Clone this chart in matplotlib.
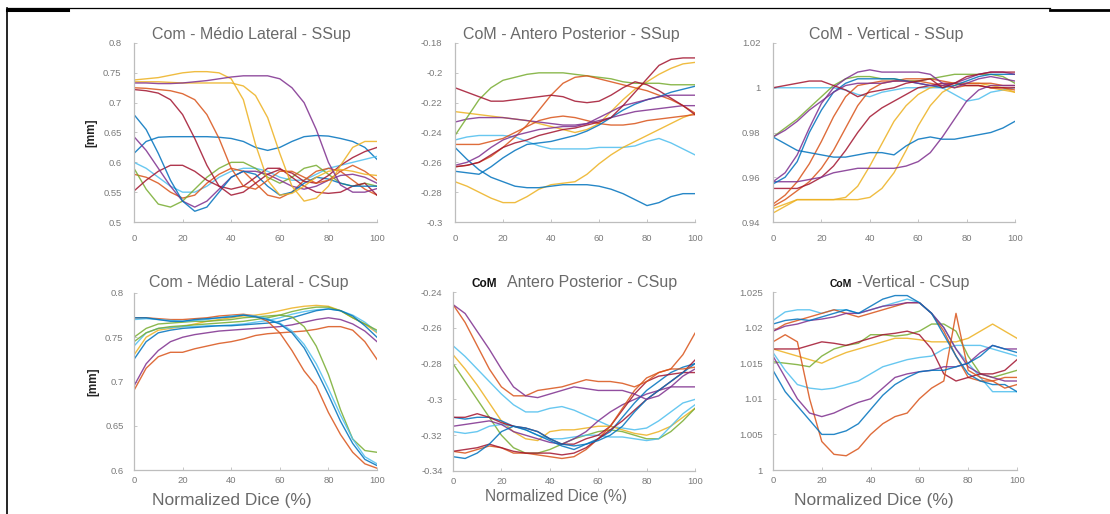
import numpy as np
import matplotlib
matplotlib.use("Agg")
import matplotlib.pyplot as plt
from matplotlib.lines import Line2D

plt.rcParams['font.family'] = ['Liberation Sans', 'DejaVu Sans']

# ---------------- data ----------------
x_pct = np.arange(0, 101, 5)

C_BLUE, C_ORANGE, C_YELLOW = '#0072BD', '#D95319', '#EDB120'
C_PURPLE, C_GREEN, C_CYAN, C_RED = '#7E2F8E', '#77AC30', '#4DBEEE', '#A2142F'

# Com - Medio Lateral - SSup
ml_s_purple1 = [0.733,0.733,0.732,0.732,0.733,0.735,0.737,0.740,0.743,0.745,0.745,0.745,0.740,0.725,0.700,0.655,0.600,0.562,0.550,0.550,0.556]
ml_s_yellow1 = [0.738,0.740,0.742,0.746,0.750,0.752,0.752,0.750,0.740,0.705,0.630,0.570,0.545,0.548,0.560,0.575,0.585,0.588,0.585,0.580,0.578]
ml_s_yellow2 = [0.735,0.735,0.735,0.734,0.733,0.733,0.733,0.733,0.733,0.728,0.712,0.675,0.615,0.560,0.535,0.540,0.560,0.595,0.625,0.635,0.635]
ml_s_orange1 = [0.725,0.724,0.722,0.720,0.715,0.705,0.680,0.640,0.590,0.560,0.555,0.570,0.585,0.585,0.575,0.565,0.570,0.585,0.595,0.585,0.570]
ml_s_red1    = [0.722,0.720,0.716,0.705,0.680,0.640,0.595,0.560,0.545,0.550,0.565,0.580,0.588,0.582,0.568,0.565,0.578,0.595,0.608,0.618,0.625]
ml_s_blue1   = [0.680,0.655,0.615,0.570,0.535,0.518,0.525,0.550,0.575,0.585,0.580,0.560,0.545,0.550,0.565,0.575,0.572,0.565,0.560,0.560,0.560]
ml_s_blue2   = [0.615,0.635,0.642,0.643,0.643,0.643,0.643,0.642,0.640,0.635,0.625,0.620,0.625,0.635,0.643,0.645,0.644,0.640,0.635,0.625,0.605]
ml_s_purple2 = [0.643,0.620,0.590,0.560,0.535,0.525,0.535,0.555,0.575,0.585,0.585,0.580,0.570,0.560,0.555,0.560,0.570,0.578,0.580,0.575,0.565]
ml_s_green1  = [0.590,0.555,0.530,0.525,0.535,0.555,0.575,0.590,0.600,0.600,0.590,0.575,0.565,0.575,0.590,0.595,0.580,0.565,0.560,0.565,0.560]
ml_s_red2    = [0.552,0.570,0.585,0.595,0.595,0.585,0.570,0.560,0.555,0.560,0.575,0.590,0.590,0.575,0.560,0.550,0.548,0.550,0.560,0.565,0.545]
ml_s_cyan1   = [0.600,0.590,0.575,0.560,0.550,0.550,0.560,0.575,0.585,0.590,0.590,0.585,0.575,0.570,0.570,0.580,0.590,0.595,0.600,0.605,0.610]
ml_s_orange2 = [0.580,0.575,0.565,0.550,0.540,0.545,0.565,0.580,0.590,0.585,0.565,0.545,0.540,0.550,0.570,0.585,0.590,0.585,0.570,0.555,0.545]

# CoM - Antero Posterior - SSup
ap_s_green   = [-0.242,-0.230,-0.218,-0.210,-0.205,-0.203,-0.201,-0.200,-0.200,-0.200,-0.201,-0.202,-0.203,-0.204,-0.206,-0.207,-0.207,-0.207,-0.208,-0.208,-0.208]
ap_s_red     = [-0.263,-0.262,-0.260,-0.256,-0.250,-0.243,-0.235,-0.225,-0.215,-0.207,-0.203,-0.202,-0.204,-0.206,-0.208,-0.210,-0.212,-0.215,-0.218,-0.222,-0.227]
ap_s_dkred   = [-0.210,-0.213,-0.216,-0.219,-0.219,-0.218,-0.217,-0.216,-0.215,-0.216,-0.219,-0.220,-0.219,-0.215,-0.210,-0.206,-0.208,-0.212,-0.217,-0.222,-0.228]
ap_s_purple  = [-0.263,-0.262,-0.260,-0.255,-0.250,-0.247,-0.245,-0.242,-0.240,-0.238,-0.237,-0.235,-0.233,-0.230,-0.222,-0.213,-0.204,-0.195,-0.191,-0.190,-0.190]
ap_s_orange  = [-0.248,-0.248,-0.248,-0.246,-0.244,-0.240,-0.236,-0.232,-0.230,-0.229,-0.230,-0.232,-0.234,-0.235,-0.235,-0.234,-0.232,-0.231,-0.230,-0.229,-0.228]
ap_s_yellow1 = [-0.226,-0.227,-0.228,-0.229,-0.230,-0.231,-0.232,-0.234,-0.236,-0.238,-0.240,-0.238,-0.234,-0.226,-0.218,-0.211,-0.206,-0.201,-0.197,-0.194,-0.193]
ap_s_yellow2 = [-0.273,-0.276,-0.280,-0.284,-0.287,-0.287,-0.283,-0.278,-0.275,-0.274,-0.273,-0.268,-0.261,-0.255,-0.250,-0.246,-0.242,-0.238,-0.234,-0.230,-0.227]
ap_s_cyan    = [-0.245,-0.243,-0.242,-0.242,-0.242,-0.243,-0.246,-0.249,-0.251,-0.251,-0.251,-0.251,-0.250,-0.250,-0.250,-0.249,-0.246,-0.244,-0.247,-0.251,-0.255]
ap_s_blue1   = [-0.250,-0.258,-0.265,-0.270,-0.273,-0.276,-0.277,-0.277,-0.276,-0.275,-0.275,-0.275,-0.276,-0.278,-0.281,-0.285,-0.289,-0.287,-0.283,-0.281,-0.281]
ap_s_blue2   = [-0.266,-0.267,-0.268,-0.263,-0.257,-0.252,-0.248,-0.247,-0.246,-0.244,-0.242,-0.239,-0.235,-0.230,-0.225,-0.221,-0.218,-0.216,-0.213,-0.211,-0.209]
ap_s_purple2 = [-0.233,-0.231,-0.230,-0.230,-0.230,-0.231,-0.232,-0.233,-0.234,-0.235,-0.235,-0.234,-0.232,-0.230,-0.228,-0.226,-0.225,-0.224,-0.223,-0.222,-0.222]
ap_s_dkpurp  = [-0.262,-0.260,-0.256,-0.250,-0.245,-0.242,-0.240,-0.238,-0.237,-0.236,-0.236,-0.234,-0.230,-0.226,-0.222,-0.220,-0.218,-0.216,-0.215,-0.215,-0.215]

# CoM - Vertical - SSup
v_s_dkpurp   = [1.000,1.001,1.002,1.003,1.003,1.001,0.999,0.996,0.998,0.999,1.000,1.002,1.003,1.004,1.000,1.002,1.005,1.006,1.007,1.007,1.007]
v_s_cyan     = [1.000,1.000,1.000,1.000,1.000,1.000,0.999,0.997,0.996,0.998,0.999,1.000,1.000,1.000,1.000,0.997,0.994,0.995,0.998,0.999,1.000]
v_s_purple   = [0.958,0.962,0.970,0.982,0.993,1.000,1.004,1.007,1.008,1.007,1.007,1.007,1.007,1.006,1.002,1.000,1.002,1.004,1.005,1.004,1.003]
v_s_blue     = [0.957,0.960,0.967,0.980,0.990,0.998,1.002,1.004,1.004,1.004,1.004,1.003,1.002,1.001,1.000,1.001,1.003,1.005,1.006,1.006,1.006]
v_s_green    = [0.978,0.982,0.986,0.991,0.996,1.001,1.004,1.005,1.005,1.004,1.004,1.003,1.003,1.004,1.005,1.006,1.006,1.006,1.006,1.005,1.002]
v_s_dkpurp2  = [0.978,0.981,0.985,0.990,0.994,0.998,1.001,1.002,1.002,1.002,1.003,1.003,1.002,1.001,1.001,1.002,1.004,1.006,1.007,1.007,1.006]
v_s_bluelow  = [0.978,0.975,0.972,0.971,0.970,0.969,0.969,0.970,0.971,0.971,0.970,0.974,0.977,0.978,0.977,0.977,0.978,0.979,0.980,0.982,0.985]
v_s_red      = [0.948,0.952,0.958,0.966,0.976,0.987,0.996,1.001,1.002,1.003,1.003,1.004,1.004,1.004,1.003,1.002,1.002,1.002,1.002,1.001,1.001]
v_s_orange   = [0.947,0.950,0.954,0.958,0.964,0.972,0.982,0.992,0.999,1.002,1.003,1.003,1.003,1.002,1.001,1.000,1.001,1.001,1.000,1.000,0.999]
v_s_orange2  = [0.955,0.955,0.955,0.957,0.960,0.965,0.972,0.980,0.987,0.991,0.994,0.997,1.000,1.001,1.002,1.002,1.001,1.001,1.000,1.000,1.000]
v_s_purplelow= [0.958,0.958,0.958,0.959,0.960,0.962,0.963,0.964,0.964,0.964,0.964,0.965,0.967,0.971,0.978,0.986,0.994,0.999,1.001,1.001,1.001]
v_s_yellow1  = [0.946,0.948,0.950,0.950,0.950,0.950,0.950,0.950,0.951,0.955,0.962,0.972,0.983,0.992,0.998,1.001,1.002,1.002,1.001,1.000,0.998]
v_s_yellow2  = [0.944,0.947,0.950,0.950,0.950,0.950,0.951,0.956,0.965,0.975,0.985,0.992,0.997,1.000,1.001,1.002,1.001,1.001,1.000,0.999,0.998]

# Com - Medio Lateral - CSup
ml_c_blue1   = [0.772,0.772,0.770,0.768,0.768,0.770,0.771,0.772,0.773,0.775,0.773,0.770,0.765,0.755,0.738,0.713,0.685,0.655,0.630,0.612,0.605]
ml_c_blue2   = [0.770,0.771,0.770,0.769,0.768,0.769,0.770,0.772,0.774,0.775,0.774,0.771,0.766,0.757,0.742,0.720,0.692,0.662,0.635,0.615,0.607]
ml_c_red1    = [0.772,0.772,0.771,0.770,0.770,0.771,0.772,0.774,0.775,0.776,0.774,0.768,0.755,0.735,0.712,0.695,0.665,0.640,0.620,0.607,0.602]
ml_c_green1  = [0.750,0.760,0.765,0.766,0.767,0.768,0.768,0.769,0.770,0.772,0.773,0.774,0.775,0.773,0.762,0.740,0.708,0.668,0.635,0.622,0.620]
ml_c_orange  = [0.730,0.750,0.758,0.760,0.762,0.765,0.768,0.770,0.772,0.774,0.775,0.777,0.780,0.783,0.785,0.786,0.785,0.780,0.772,0.765,0.755]
ml_c_cyan    = [0.740,0.755,0.760,0.761,0.762,0.762,0.763,0.763,0.764,0.765,0.767,0.769,0.772,0.776,0.779,0.781,0.782,0.780,0.775,0.767,0.756]
ml_c_green2  = [0.745,0.755,0.760,0.762,0.763,0.764,0.765,0.766,0.767,0.768,0.770,0.772,0.775,0.779,0.782,0.784,0.784,0.780,0.772,0.765,0.758]
ml_c_blue3   = [0.725,0.745,0.755,0.758,0.760,0.761,0.762,0.763,0.763,0.764,0.765,0.766,0.768,0.772,0.776,0.780,0.782,0.780,0.774,0.763,0.750]
ml_c_purple  = [0.695,0.720,0.735,0.745,0.750,0.753,0.755,0.757,0.758,0.759,0.760,0.761,0.762,0.764,0.767,0.770,0.772,0.770,0.765,0.757,0.745]
ml_c_red2    = [0.690,0.715,0.728,0.733,0.733,0.737,0.740,0.743,0.745,0.748,0.752,0.754,0.755,0.756,0.757,0.759,0.762,0.762,0.758,0.745,0.725]

# CoM - Antero Posterior - CSup
ap_c_purple  = [-0.247,-0.252,-0.262,-0.272,-0.283,-0.293,-0.298,-0.299,-0.297,-0.295,-0.293,-0.294,-0.295,-0.295,-0.295,-0.297,-0.300,-0.298,-0.293,-0.287,-0.283]
ap_c_red     = [-0.247,-0.257,-0.270,-0.283,-0.293,-0.298,-0.298,-0.295,-0.294,-0.293,-0.291,-0.289,-0.290,-0.290,-0.291,-0.293,-0.290,-0.285,-0.283,-0.283,-0.282]
ap_c_cyan1   = [-0.270,-0.276,-0.283,-0.290,-0.297,-0.303,-0.307,-0.307,-0.305,-0.304,-0.306,-0.309,-0.312,-0.315,-0.316,-0.317,-0.316,-0.312,-0.307,-0.302,-0.300]
ap_c_yellow  = [-0.275,-0.283,-0.292,-0.302,-0.312,-0.318,-0.322,-0.323,-0.318,-0.317,-0.317,-0.316,-0.315,-0.315,-0.317,-0.319,-0.320,-0.318,-0.315,-0.310,-0.305]
ap_c_green   = [-0.280,-0.290,-0.300,-0.310,-0.320,-0.327,-0.330,-0.330,-0.328,-0.325,-0.322,-0.320,-0.318,-0.317,-0.318,-0.320,-0.322,-0.322,-0.318,-0.312,-0.305]
ap_c_blue1   = [-0.310,-0.311,-0.310,-0.310,-0.312,-0.315,-0.317,-0.320,-0.323,-0.326,-0.328,-0.325,-0.322,-0.318,-0.310,-0.302,-0.295,-0.290,-0.285,-0.282,-0.280]
ap_c_dkred   = [-0.310,-0.310,-0.308,-0.310,-0.313,-0.315,-0.316,-0.318,-0.322,-0.325,-0.325,-0.322,-0.320,-0.315,-0.306,-0.297,-0.290,-0.287,-0.286,-0.285,-0.285]
ap_c_orange  = [-0.329,-0.330,-0.328,-0.326,-0.327,-0.330,-0.330,-0.331,-0.332,-0.333,-0.332,-0.328,-0.322,-0.315,-0.305,-0.295,-0.288,-0.285,-0.283,-0.275,-0.263]
ap_c_purple2 = [-0.329,-0.328,-0.327,-0.325,-0.327,-0.329,-0.330,-0.330,-0.330,-0.331,-0.330,-0.327,-0.322,-0.317,-0.312,-0.306,-0.300,-0.295,-0.290,-0.285,-0.278]
ap_c_blue2   = [-0.332,-0.333,-0.330,-0.325,-0.318,-0.315,-0.316,-0.318,-0.322,-0.325,-0.326,-0.325,-0.323,-0.320,-0.315,-0.307,-0.300,-0.295,-0.290,-0.285,-0.280]
ap_c_cyan2   = [-0.318,-0.319,-0.318,-0.315,-0.314,-0.315,-0.317,-0.320,-0.322,-0.322,-0.321,-0.320,-0.320,-0.321,-0.321,-0.322,-0.323,-0.322,-0.315,-0.308,-0.303]
ap_c_dkpurp  = [-0.315,-0.314,-0.313,-0.312,-0.314,-0.318,-0.320,-0.322,-0.324,-0.325,-0.322,-0.318,-0.312,-0.307,-0.303,-0.300,-0.297,-0.295,-0.293,-0.293,-0.293]

# CoM - Vertical - CSup
v_c_cyan1    = [1.0210,1.0222,1.0225,1.0225,1.0220,1.0225,1.0225,1.0220,1.0225,1.0230,1.0235,1.0240,1.0235,1.0220,1.0200,1.0170,1.0150,1.0130,1.0110,1.0110,1.0110]
v_c_blue1    = [1.0205,1.0210,1.0212,1.0210,1.0215,1.0220,1.0225,1.0220,1.0230,1.0240,1.0245,1.0245,1.0235,1.0220,1.0190,1.0160,1.0135,1.0125,1.0120,1.0120,1.0110]
v_c_orange1  = [1.0195,1.0205,1.0210,1.0215,1.0220,1.0225,1.0220,1.0215,1.0220,1.0225,1.0230,1.0235,1.0235,1.0220,1.0195,1.0160,1.0130,1.0125,1.0125,1.0130,1.0130]
v_c_purple1  = [1.0195,1.0202,1.0205,1.0210,1.0212,1.0215,1.0220,1.0220,1.0225,1.0230,1.0232,1.0235,1.0235,1.0220,1.0200,1.0170,1.0145,1.0135,1.0130,1.0125,1.0125]
v_c_yellow   = [1.0170,1.0165,1.0160,1.0155,1.0150,1.0158,1.0165,1.0170,1.0175,1.0180,1.0185,1.0185,1.0183,1.0180,1.0180,1.0180,1.0185,1.0195,1.0205,1.0195,1.0185]
v_c_green    = [1.0152,1.0150,1.0148,1.0145,1.0160,1.0170,1.0175,1.0178,1.0190,1.0190,1.0188,1.0190,1.0195,1.0205,1.0205,1.0195,1.0160,1.0135,1.0130,1.0135,1.0140]
v_c_dkred    = [1.0170,1.0170,1.0170,1.0175,1.0180,1.0178,1.0175,1.0180,1.0185,1.0190,1.0192,1.0195,1.0190,1.0170,1.0135,1.0125,1.0130,1.0135,1.0135,1.0140,1.0155]
v_c_orange2  = [1.0180,1.0190,1.0180,1.0100,1.0040,1.0022,1.0020,1.0030,1.0050,1.0065,1.0075,1.0080,1.0100,1.0115,1.0125,1.0220,1.0140,1.0130,1.0125,1.0115,1.0120]
v_c_cyan2    = [1.0165,1.0140,1.0120,1.0115,1.0113,1.0115,1.0120,1.0125,1.0135,1.0145,1.0150,1.0155,1.0158,1.0160,1.0170,1.0175,1.0175,1.0175,1.0170,1.0165,1.0160]
v_c_blue2    = [1.0140,1.0110,1.0090,1.0070,1.0050,1.0050,1.0055,1.0065,1.0085,1.0105,1.0120,1.0130,1.0138,1.0140,1.0140,1.0145,1.0150,1.0160,1.0175,1.0170,1.0165]
v_c_purple2  = [1.0160,1.0130,1.0100,1.0080,1.0075,1.0080,1.0088,1.0095,1.0100,1.0115,1.0130,1.0135,1.0138,1.0140,1.0145,1.0145,1.0150,1.0165,1.0175,1.0170,1.0170]

panels = [
    dict(rect=(134, 377, 43, 222), ylim=(0.5, 0.8), yticks=[0.5, 0.55, 0.6, 0.65, 0.7, 0.75, 0.8],
         ylabels=['0.5', '0.55', '0.6', '0.65', '0.7', '0.75', '0.8'], ylab=True, xpad=8.5, ypad=9,
         series=[(ml_s_blue2, C_BLUE), (ml_s_cyan1, C_CYAN), (ml_s_orange2, C_ORANGE), (ml_s_green1, C_GREEN),
                 (ml_s_red2, C_RED), (ml_s_purple2, C_PURPLE), (ml_s_blue1, C_BLUE), (ml_s_red1, C_RED),
                 (ml_s_orange1, C_ORANGE), (ml_s_yellow2, C_YELLOW), (ml_s_yellow1, C_YELLOW), (ml_s_purple1, C_PURPLE)]),
    dict(rect=(455, 695, 43, 222), ylim=(-0.3, -0.18), yticks=[-0.3, -0.28, -0.26, -0.24, -0.22, -0.2, -0.18],
         ylabels=['-0.3', '-0.28', '-0.26', '-0.24', '-0.22', '-0.2', '-0.18'], ylab=False, xpad=8.5, ypad=9,
         series=[(ap_s_cyan, C_CYAN), (ap_s_yellow1, C_YELLOW), (ap_s_yellow2, C_YELLOW), (ap_s_orange, C_ORANGE),
                 (ap_s_purple2, C_PURPLE), (ap_s_green, C_GREEN), (ap_s_red, C_ORANGE), (ap_s_dkred, C_RED),
                 (ap_s_blue1, C_BLUE), (ap_s_blue2, C_BLUE), (ap_s_dkpurp, C_PURPLE), (ap_s_purple, C_RED)]),
    dict(rect=(773, 1015, 43, 222), ylim=(0.94, 1.02), yticks=[0.94, 0.96, 0.98, 1.0, 1.02],
         ylabels=['0.94', '0.96', '0.98', '1', '1.02'], ylab=False, xpad=8.5, ypad=9,
         series=[(v_s_cyan, C_CYAN), (v_s_yellow1, C_YELLOW), (v_s_yellow2, C_YELLOW), (v_s_orange, C_ORANGE),
                 (v_s_orange2, C_RED), (v_s_red, C_ORANGE), (v_s_green, C_GREEN), (v_s_purplelow, C_PURPLE),
                 (v_s_bluelow, C_BLUE), (v_s_blue, C_BLUE), (v_s_purple, C_PURPLE), (v_s_dkpurp2, C_PURPLE),
                 (v_s_dkpurp, C_RED)]),
    dict(rect=(134, 377, 293, 470), ylim=(0.6, 0.8), yticks=[0.6, 0.65, 0.7, 0.75, 0.8],
         ylabels=['0.6', '0.65', '0.7', '0.75', '0.8'], ylab=True, xpad=4.5, ypad=7.5,
         series=[(ml_c_orange, C_YELLOW), (ml_c_cyan, C_CYAN), (ml_c_green2, C_GREEN), (ml_c_blue3, C_BLUE),
                 (ml_c_purple, C_PURPLE), (ml_c_red2, C_ORANGE), (ml_c_green1, C_GREEN), (ml_c_red1, C_ORANGE),
                 (ml_c_blue2, C_CYAN), (ml_c_blue1, C_BLUE)]),
    dict(rect=(453, 695, 292, 471), ylim=(-0.34, -0.24), yticks=[-0.34, -0.32, -0.3, -0.28, -0.26, -0.24],
         ylabels=['-0.34', '-0.32', '-0.3', '-0.28', '-0.26', '-0.24'], ylab=False, xpad=4.5, ypad=7.5,
         series=[(ap_c_cyan1, C_CYAN), (ap_c_yellow, C_YELLOW), (ap_c_green, C_GREEN), (ap_c_cyan2, C_CYAN),
                 (ap_c_dkpurp, C_PURPLE), (ap_c_blue1, C_BLUE), (ap_c_dkred, C_RED), (ap_c_orange, C_ORANGE),
                 (ap_c_purple2, C_RED), (ap_c_blue2, C_BLUE), (ap_c_red, C_ORANGE), (ap_c_purple, C_PURPLE)]),
    dict(rect=(773, 1017, 292, 470), ylim=(1.0, 1.025), yticks=[1.0, 1.005, 1.01, 1.015, 1.02, 1.025],
         ylabels=['1', '1.005', '1.01', '1.015', '1.02', '1.025'], ylab=False, xpad=4.5, ypad=7.5,
         series=[(v_c_yellow, C_YELLOW), (v_c_green, C_GREEN), (v_c_cyan2, C_CYAN), (v_c_cyan1, C_CYAN),
                 (v_c_orange1, C_ORANGE), (v_c_purple1, C_PURPLE), (v_c_blue1, C_BLUE), (v_c_dkred, C_RED),
                 (v_c_orange2, C_ORANGE), (v_c_purple2, C_PURPLE), (v_c_blue2, C_BLUE)]),
]

W, H = 1110, 514
fig = plt.figure(figsize=(W / 100, H / 100), dpi=100)
fig.patch.set_facecolor('white')

TXT = '#6a6a6a'
TICK = '#7a7a7a'
axes = []
for p in panels:
    l, r, t, b = p['rect']
    ax = fig.add_axes([l / W, 1 - b / H, (r - l) / W, (b - t) / H])
    for ys, c in p['series']:
        ax.plot(x_pct, ys, color=c, lw=1.0, alpha=0.85, solid_joinstyle='round')
    ax.set_xlim(0, 100)
    ax.set_ylim(*p['ylim'])
    ax.set_xticks([0, 20, 40, 60, 80, 100])
    ax.set_yticks(p['yticks'])
    ax.set_yticklabels(p['ylabels'])
    for s in ('top', 'right'):
        ax.spines[s].set_visible(False)
    for s in ('left', 'bottom'):
        ax.spines[s].set_color('#bdbdbd')
        ax.spines[s].set_linewidth(0.9)
    ax.tick_params(direction='in', length=2.5, width=0.6, color='#bdbdbd',
                   labelsize=6.8, labelcolor=TICK)
    ax.tick_params(axis='x', pad=p['xpad'])
    ax.tick_params(axis='y', pad=p['ypad'])
    if p['ylab']:
        ax.set_ylabel('[mm]', fontsize=8.5, fontweight='bold', color='#222222', labelpad=4)
    axes.append(ax)

def fx(px):
    return px / W

def fy(py):
    return 1 - py / H

TSIZE = 11.5
fig.text(fx(251), fy(34), 'Com - Médio Lateral - SSup', ha='center', va='center', fontsize=TSIZE, color=TXT)
fig.text(fx(571), fy(34), 'CoM - Antero Posterior - SSup', ha='center', va='center', fontsize=TSIZE, color=TXT)
fig.text(fx(886), fy(34), 'CoM - Vertical - SSup', ha='center', va='center', fontsize=TSIZE, color=TXT)
fig.text(fx(249), fy(283), 'Com - Médio Lateral - CSup', ha='center', va='center', fontsize=TSIZE, color=TXT)
# bottom-middle title: small bold "CoM" + remainder
fig.text(fx(472), fy(284), 'CoM', ha='left', va='center', fontsize=8.5, fontweight='bold', color='#111111')
fig.text(fx(507), fy(283), 'Antero Posterior - CSup', ha='left', va='center', fontsize=TSIZE, color=TXT)
fig.text(fx(830), fy(284), 'CoM', ha='left', va='center', fontsize=7.5, fontweight='bold', color='#111111')
fig.text(fx(857), fy(283), '-Vertical - CSup', ha='left', va='center', fontsize=TSIZE, color=TXT)

fig.text(fx(232), fy(500), 'Normalized Dice (%)', ha='center', va='center', fontsize=12.5, color=TXT)
fig.text(fx(556), fy(497), 'Normalized Dice (%)', ha='center', va='center', fontsize=11.2, color=TXT)
fig.text(fx(874), fy(500), 'Normalized Dice (%)', ha='center', va='center', fontsize=12.5, color=TXT)

# frame lines of the original page
fig.add_artist(Line2D([fx(7), fx(7)], [fy(8), fy(514)], color='black', lw=1.2))
fig.add_artist(Line2D([fx(7), fx(1050)], [fy(8), fy(8)], color='black', lw=0.9))
fig.add_artist(Line2D([fx(7), fx(68)], [fy(10), fy(10)], color='black', lw=2.2))
fig.add_artist(Line2D([fx(1050), fx(1110)], [fy(9.5), fy(9.5)], color='black', lw=2.0))

fig.savefig('out.png', dpi=100, facecolor='white')
